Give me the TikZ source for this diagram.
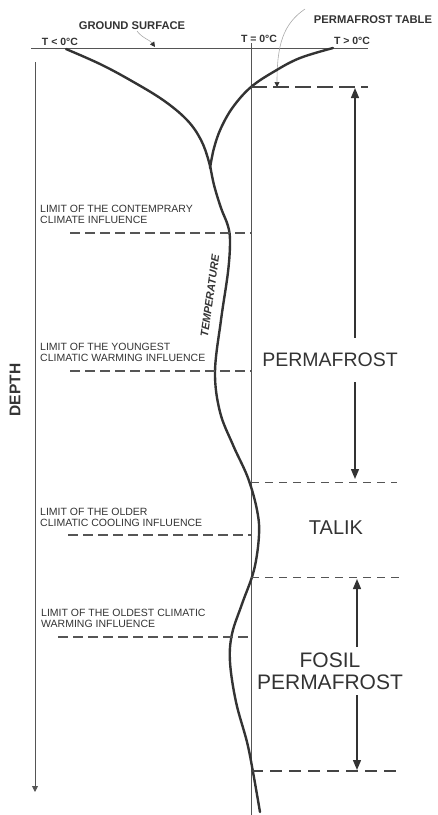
\documentclass[tikz,border=0pt]{standalone}
\usepackage{fontspec}
\setmainfont{Liberation Sans}
\usetikzlibrary{arrows.meta}
\definecolor{ink}{HTML}{333333}
\definecolor{rule}{HTML}{555555}
\definecolor{lead}{HTML}{AAAAAA}
\tikzset{
  tempcurve/.style={ink, line width=2.4pt, line cap=round},
  axisline/.style={rule, line width=0.9pt},
  limitline/.style={rule, line width=1.4pt, dash pattern=on 10pt off 5pt},
  thinlimit/.style={rule, line width=0.9pt, dash pattern=on 8pt off 6pt},
  thicklimit/.style={rule!80!black, line width=1.8pt, dash pattern=on 16pt off 6pt},
  span/.style={ink, line width=1.4pt, -{Triangle[length=10pt,width=8pt]}},
  leader/.style={lead, line width=0.6pt, -{Triangle[length=5pt,width=5pt,color=ink]}},
  headlabel/.style={ink, anchor=base, font=\bfseries\fontsize{10.5}{12}\selectfont},
  limitlabel/.style={ink, anchor=south west, inner sep=0pt, align=left, font=\fontsize{10.5}{11.7}\selectfont},
  zonelabel/.style={ink, align=center}
}
\begin{document}
\begin{tikzpicture}[x=1pt, y=-1pt]
          \useasboundingbox (0,0) rectangle (437,815);
          % axes and reference lines
          \draw[axisline] (31,48) -- (368,48);
          \draw[axisline] (251,43) -- (251,815);
          \draw[axisline, -{Triangle[length=6pt,width=6pt]}] (35,62) -- (35,792);
          %
          \node[headlabel] (tneg) at (60,45) {T < 0°C};
          \node[headlabel] (tzero) at (259,42) {T = 0°C};
          \node[headlabel] (tpos) at (352,44) {T > 0°C};
          \node[headlabel, font=\bfseries\fontsize{11.2}{12}\selectfont] (ground) at (132,29) {GROUND SURFACE};
          \node[headlabel, font=\bfseries\fontsize{11.2}{12}\selectfont] (pftable) at (373,23) {PERMAFROST TABLE};
          \node[ink, rotate=90, font=\bfseries\fontsize{15.5}{16}\selectfont] (depth) at (15,390) {DEPTH};
          %
          \draw[leader] (137,31) .. controls (142,38) and (150,40) .. (155,47);
          \draw[leader] (305,9) .. controls (283,24) and (277,45) .. (277,87);
          % temperature curves
          \draw[tempcurve] plot[smooth, tension=0.6] coordinates {(66,49) (100,64) (130,80) (163,100) (187,120) (201,140) (209,162) (214,185) (221,208) (228,226) (230,242) (228,272) (221,320) (215,372) (220,412) (233,445) (248,478) (257,510) (259,535) (254,570) (242,604) (232,634) (230,662) (236,702) (247,742) (253,772) (260,812)};
          \draw[tempcurve] plot[smooth, tension=0.6] coordinates {(333,48) (300,58) (275,71) (251,87) (233,107) (221,128) (214,148) (210,168)};
          \node[ink, rotate=82, inner sep=1pt, font=\bfseries\itshape\fontsize{11}{12}\selectfont] (temp) at (210,296) {TEMPERATURE};
          % limits of climate influence
          \draw[limitline] (70,233) -- (251,233);
          \draw[limitline] (70,371) -- (251,371);
          \draw[limitline] (68,535) -- (251,535);
          \draw[limitline] (58,637) -- (251,637);
          \node[limitlabel] (contemp) at (40,224) {LIMIT OF THE CONTEMPRARY\\CLIMATE INFLUENCE};
          \node[limitlabel] (youngest) at (40,362) {LIMIT OF THE YOUNGEST\\CLIMATIC WARMING INFLUENCE};
          \node[limitlabel] (older) at (40,527) {LIMIT OF THE OLDER\\CLIMATIC COOLING INFLUENCE};
          \node[limitlabel] (oldest) at (41,628) {LIMIT OF THE OLDEST CLIMATIC\\WARMING INFLUENCE};
          % zones
          \draw[thicklimit] (251,87) -- (368,87);
          \draw[thinlimit] (251,482) -- (397,482);
          \draw[thinlimit] (251,577) -- (400,577);
          \draw[thicklimit, line width=1.6pt, dash pattern=on 12pt off 7pt] (251,771) -- (403,771);
          %
          \node[zonelabel, inner ysep=15pt, font=\fontsize{19.5}{22}\selectfont] (pf) at (330,360) {PERMAFROST};
          \node[zonelabel, font=\fontsize{20}{22}\selectfont, anchor=base] (talik) at (336,534) {TALIK};
          \node[zonelabel, inner ysep=5pt, anchor=south, font=\fontsize{21}{22.5}\selectfont] (fosil) at (330,695) {FOSIL\\PERMAFROST};
          \coordinate (pftop) at (355,88);
          \coordinate (pfbot) at (355,479);
          \coordinate (fostop) at (357,579);
          \coordinate (fosbot) at (357,770);
          \draw[span] (pf.north -| pftop) -- (pftop);
          \draw[span] (pf.south -| pfbot) -- (pfbot);
          \draw[span] (fosil.north -| fostop) -- (fostop);
          \draw[span] (fosil.south -| fosbot) -- (fosbot);
        \end{tikzpicture}
\end{document}
